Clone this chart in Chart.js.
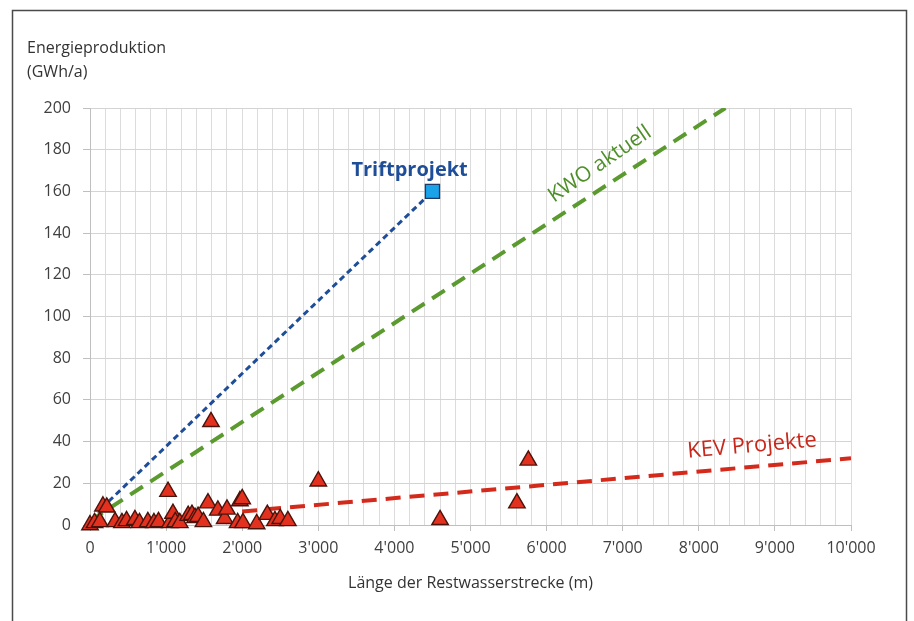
<!DOCTYPE html>
<html>
<head>
<meta charset="utf-8">
<script src="https://cdn.jsdelivr.net/npm/chart.js@4.4.0/dist/chart.umd.min.js"></script>
<style>
  html, body { margin: 0; padding: 0; background: #fff; }
  #wrap { width: 914px; height: 621px; position: relative; }
</style>
</head>
<body>
<div id="wrap"><canvas id="grafico"></canvas></div>
<script>
// Restwasserstrecke (m) und Energieproduktion (GWh/a) der KEV-Projekte
var restLaenge = [0, 60, 130, 170, 220, 330, 420, 480, 590, 650, 760, 840, 900, 1025, 1050, 1090, 1120, 1180,
    1290, 1340, 1380, 1420, 1490, 1550, 1590, 1680, 1770, 1800, 1940, 1970, 2000, 2010, 2190, 2330, 2430,
    2500, 2600, 3000, 4600, 5610, 5760];
var energie = [0, 1, 1.5, 9, 8.5, 1.5, 1, 2, 2.5, 1, 1.5, 1, 1.5, 16, 1, 5.5, 1.5, 1,
    4.5, 5, 3.5, 4, 1.5, 10.5, 49.5, 7, 3, 7.5, 1, 11.5, 12.5, 1, 0.5, 5, 2,
    3, 2, 21, 2.5, 10.5, 31];

// Triftprojekt
var triftX = [4500];
var triftY = [160];

// Trendlinien (Anfangs- und Endpunkt)
var triftLinieX = [150, 4500];
var triftLinieY = [8, 160];
var kwoLinieX = [0, 8350];
var kwoLinieY = [2, 200];
var kevLinieX = [2000, 10000];
var kevLinieY = [6.5, 32];

// Beschriftungen
var beschriftungen = [
    { text: 'Triftprojekt', x: 4200, y: 170, winkel: 0, farbe: '#1f4e99', bold: true, groesse: 20 },
    { text: 'KWO aktuell', x: 6700, y: 173, winkel: -34.5, farbe: '#4e8f2a', bold: false, groesse: 21 },
    { text: 'KEV Projekte', x: 8700, y: 38, winkel: -5, farbe: '#c8281c', bold: false, groesse: 22 }
];

var schrift = '"Open Sans", "DejaVu Sans", sans-serif';

function paare(xs, ys) {
    var p = [];
    for (var i = 0; i < xs.length; i++) p.push({ x: xs[i], y: ys[i] });
    return p;
}

function formatTausend(v) {
    var s = String(Math.round(v));
    return s.replace(/\B(?=(\d{3})+(?!\d))/g, "'");
}

var rahmenPlugin = {
    id: 'rahmen',
    afterDraw: function (chart) {
        var ctx = chart.ctx;
        ctx.save();
        ctx.strokeStyle = '#4a4a4a';
        ctx.lineWidth = 1.5;
        ctx.strokeRect(12.5, 10.5, 894, 620);
        // Achsentitel y
        ctx.fillStyle = '#333333';
        ctx.font = '16px ' + schrift;
        ctx.textAlign = 'left';
        ctx.textBaseline = 'middle';
        ctx.fillText('Energieproduktion', 27, 48);
        ctx.fillText('(GWh/a)', 27, 72);
        // Beschriftungen der Linien
        var sx = chart.scales.x, sy = chart.scales.y;
        beschriftungen.forEach(function (b) {
            ctx.save();
            ctx.translate(sx.getPixelForValue(b.x), sy.getPixelForValue(b.y));
            ctx.rotate(b.winkel * Math.PI / 180);
            ctx.fillStyle = b.farbe;
            ctx.font = (b.bold ? 'bold ' : '') + b.groesse + 'px ' + schrift;
            ctx.textAlign = 'center';
            ctx.textBaseline = 'middle';
            ctx.fillText(b.text, 0, 0);
            ctx.restore();
        });
        ctx.restore();
    }
};

new Chart(document.getElementById('grafico'), {
    type: 'scatter',
    data: {
        datasets: [
            {
                label: 'KEV Projekte',
                data: paare(restLaenge, energie),
                pointStyle: 'triangle',
                pointRadius: 9.5,
                pointHoverRadius: 9.5,
                backgroundColor: '#e2321f',
                borderColor: '#4a140c',
                borderWidth: 1.4,
                clip: false,
                order: 0
            },
            {
                label: 'Triftprojekt',
                data: paare(triftX, triftY),
                pointStyle: 'rect',
                pointRadius: 10,
                pointHoverRadius: 10,
                backgroundColor: '#1aa3e8',
                borderColor: '#1f3a66',
                borderWidth: 1.3,
                order: 0
            },
            {
                label: 'Linie Trift',
                type: 'line',
                data: paare(triftLinieX, triftLinieY),
                borderColor: '#1f4e99',
                borderWidth: 3,
                borderDash: [6, 4],
                pointRadius: 0,
                fill: false,
                order: 1
            },
            {
                label: 'KWO aktuell',
                type: 'line',
                data: paare(kwoLinieX, kwoLinieY),
                borderColor: '#5a9a2e',
                borderWidth: 4,
                borderDash: [15, 9],
                pointRadius: 0,
                fill: false,
                order: 1
            },
            {
                label: 'Linie KEV',
                type: 'line',
                data: paare(kevLinieX, kevLinieY),
                borderColor: '#d42a1c',
                borderWidth: 4,
                borderDash: [15, 9],
                pointRadius: 0,
                fill: false,
                order: 1
            }
        ]
    },
    options: {
        responsive: true,
        maintainAspectRatio: false,
        animation: { duration: 0 },
        layout: { padding: { top: 108, right: 63, left: 0, bottom: 0 } },
        plugins: {
            legend: { display: false },
            tooltip: { enabled: false }
        },
        scales: {
            x: {
                type: 'linear',
                min: 0,
                max: 10000,
                afterFit: function (scale) { scale.height = 96; },
                ticks: {
                    stepSize: 200,
                    autoSkip: false,
                    maxRotation: 0,
                    padding: 8,
                    color: '#404040',
                    font: { family: schrift, size: 16 },
                    callback: function (v) { return v % 1000 === 0 ? formatTausend(v) : ''; }
                },
                grid: {
                    color: '#dcdcdc',
                    lineWidth: 1,
                    tickLength: 6,
                    tickColor: function (c) {
                        return (c.tick && c.tick.value % 1000 === 0) ? '#bfbfbf' : 'rgba(0,0,0,0)';
                    }
                },
                border: { color: '#bfbfbf' },
                title: {
                    display: true,
                    text: 'Länge der Restwasserstrecke (m)',
                    color: '#333333',
                    font: { family: schrift, size: 16 },
                    padding: { top: 4, bottom: 28 }
                }
            },
            y: {
                min: 0,
                max: 200,
                afterFit: function (scale) { scale.width = 90; },
                ticks: {
                    stepSize: 20,
                    padding: 12,
                    color: '#404040',
                    font: { family: schrift, size: 16 }
                },
                grid: {
                    color: '#d4d4d4',
                    lineWidth: 1,
                    tickLength: 7,
                    tickColor: '#bfbfbf'
                },
                border: { color: '#bfbfbf' }
            }
        }
    },
    plugins: [rahmenPlugin]
});
</script>
</body>
</html>
